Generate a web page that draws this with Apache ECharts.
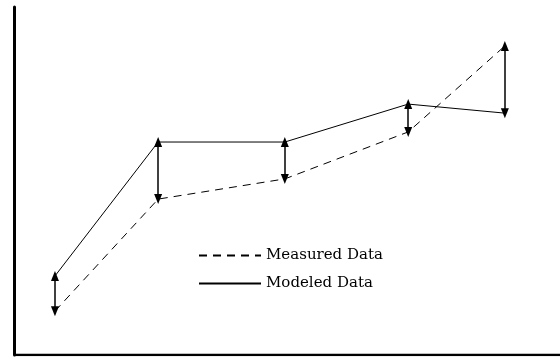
<!DOCTYPE html>
<html>
<head>
<meta charset="utf-8">
<script src="https://cdn.jsdelivr.net/npm/echarts@6/dist/echarts.min.js"></script>
</head>
<body style="margin:0">
<div id="main" style="width:560px;height:362px;"></div>
<script>
var xs = [7.5, 26.4, 49.6, 72.2, 89.9];
var measured = [12.6, 44.8, 50.6, 64.1, 88.8];
var modeled = [22.7, 61.2, 61.2, 72.1, 69.5];
var seriesNames = ['Measured Data', 'Modeled Data'];

function pairs(ys) {
    return xs.map(function (x, i) { return [x, ys[i]]; });
}
// double-headed arrows between the two curves
var gaps = xs.map(function (x, i) {
    return [{ coord: [x, modeled[i]] }, { coord: [x, measured[i]] }];
});

var chart = echarts.init(document.getElementById('main'));
chart.setOption({
    backgroundColor: '#fff',
    animation: false,
    grid: { left: 14, right: 0, top: 7, bottom: 7 },
    legend: {
        orient: 'vertical',
        left: 193,
        top: 243,
        itemWidth: 62,
        itemHeight: 14,
        itemGap: 13,
        itemStyle: { opacity: 0 },
        textStyle: { fontFamily: 'DejaVu Serif', fontSize: 15, color: '#000' },
        data: seriesNames
    },
    xAxis: {
        type: 'value', min: 0, max: 100,
        axisLine: { show: false },
        axisTick: { show: false }, axisLabel: { show: false }, splitLine: { show: false }
    },
    yAxis: {
        type: 'value', min: 0, max: 100,
        axisLine: { show: true, lineStyle: { color: '#000', width: 3 } },
        axisTick: { show: false }, axisLabel: { show: false }, splitLine: { show: false }
    },
    series: [
        {
            name: seriesNames[0], type: 'line', data: pairs(measured),
            symbol: 'none', itemStyle: { color: '#000' },
            lineStyle: { color: '#000', width: 1, type: [8, 6] }
        },
        {
            name: seriesNames[1], type: 'line', data: pairs(modeled),
            symbol: 'none', itemStyle: { color: '#000' },
            lineStyle: { color: '#000', width: 1 },
            markLine: {
                silent: true,
                symbol: ['triangle', 'triangle'],
                symbolSize: [8, 10],
                label: { show: false },
                lineStyle: { color: '#000', width: 1.5, type: 'solid' },
                data: gaps
            }
        },
        {
            // bottom frame line
            type: 'line', silent: true, symbol: 'none',
            data: [[0, 0], [100, 0]],
            lineStyle: { color: '#000', width: 2.5 }
        }
    ]
});
</script>
</body>
</html>
